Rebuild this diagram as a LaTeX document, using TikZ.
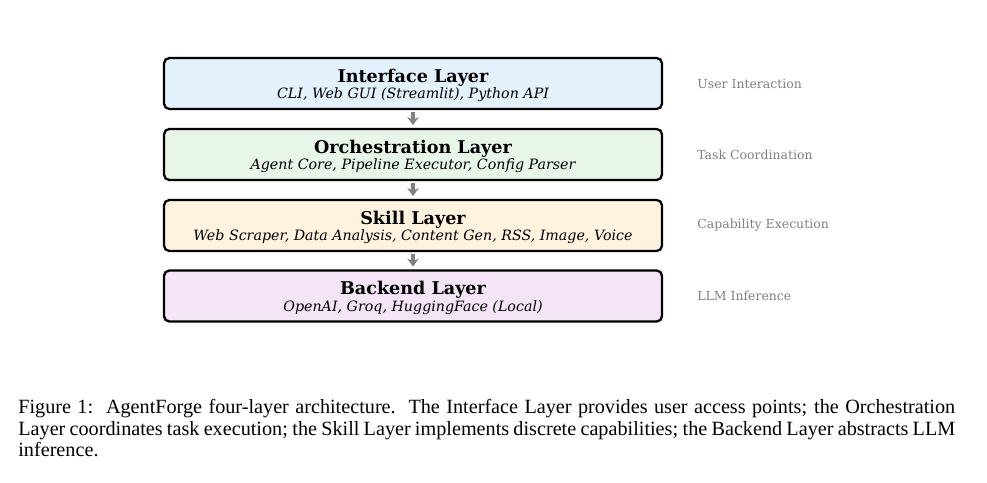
\documentclass[tikz,border=0pt]{standalone}
\usepackage{fontspec}
\setmainfont{Liberation Serif}
\newfontfamily\plotfont{DejaVu Serif}
\usepackage{xcolor}
\usepackage{tikz}
\usetikzlibrary{arrows.meta,positioning}

\definecolor{ifaceblue}{HTML}{E3F2FD}
\definecolor{orchgreen}{HTML}{E8F5E9}
\definecolor{skillorange}{HTML}{FFF3E0}
\definecolor{backpurple}{HTML}{F3E5F5}
\definecolor{notegray}{HTML}{808080}

\tikzset{
  layerbox/.style={draw=black, line width=1.3pt, rounded corners=3pt,
    minimum width=9.96cm, minimum height=1.02cm, inner sep=0pt},
  layertitle/.style={anchor=base, inner sep=0pt, font=\plotfont\bfseries\fontsize{10}{11}\selectfont},
  layeritems/.style={anchor=base, inner sep=0pt, font=\plotfont\itshape\fontsize{8.1}{9}\selectfont},
  layerflow/.style={-{Stealth[length=4.5pt,width=6.5pt]}, line width=1.8pt, notegray,
    shorten <=1pt, shorten >=1.6pt},
  sidenote/.style={anchor=west, text=notegray, font=\plotfont\fontsize{7.1}{9}\selectfont, inner sep=0pt},
}

\begin{document}
\begin{tikzpicture}[x=0.02cm,y=-0.02cm]
\useasboundingbox[fill=white] (0,0) rectangle (987,483);

% the four layers
\node[layerbox, fill=ifaceblue] (iface) at (413,83.5) {};
\node[layerbox, fill=orchgreen] (orch) at (413,154.5) {};
\node[layerbox, fill=skillorange] (skill) at (413,225.5) {};
\node[layerbox, fill=backpurple] (back) at (413,296) {};

\node[layertitle] (ifacetitle) at ([yshift=1.4*0.02cm]iface.center) {Interface Layer};
\node[layeritems] (ifaceitems) at ([yshift=-15*0.02cm]iface.center) {CLI, Web GUI (Streamlit), Python API};
\node[layertitle] (orchtitle) at ([yshift=1.4*0.02cm]orch.center) {Orchestration Layer};
\node[layeritems] (orchitems) at ([yshift=-15*0.02cm]orch.center) {Agent Core, Pipeline Executor, Config Parser};
\node[layertitle] (skilltitle) at ([yshift=1.4*0.02cm]skill.center) {Skill Layer};
\node[layeritems] (skillitems) at ([yshift=-15*0.02cm]skill.center) {Web Scraper, Data Analysis, Content Gen, RSS, Image, Voice};
\node[layertitle] (backtitle) at ([yshift=1.4*0.02cm]back.center) {Backend Layer};
\node[layeritems] (backitems) at ([yshift=-15*0.02cm]back.center) {OpenAI, Groq, HuggingFace (Local)};

% flow between layers
\draw[layerflow] (iface) -- (orch);
\draw[layerflow] (orch) -- (skill);
\draw[layerflow] (skill) -- (back);

% roles on the right
\node[sidenote] (ifacerole) at (697,83.5) {User Interaction};
\node[sidenote] (orchrole) at (697,154.5) {Task Coordination};
\node[sidenote] (skillrole) at (697,225.5) {Capability Execution};
\node[sidenote] (backrole) at (697,296) {LLM Inference};

% caption
\node[anchor=north west, text width=18.74cm, align=justify, inner sep=0pt,
  font=\fontsize{11.5}{12.2}\selectfont] (caption) at (18,399)
  {\hyphenpenalty=10000\relax
   Figure 1:\ \ AgentForge four-layer architecture.\ \ The Interface Layer provides user access points; the Orchestration Layer coordinates task execution; the Skill Layer implements discrete capabilities; the Backend Layer abstracts LLM inference.};
\end{tikzpicture}
\end{document}
